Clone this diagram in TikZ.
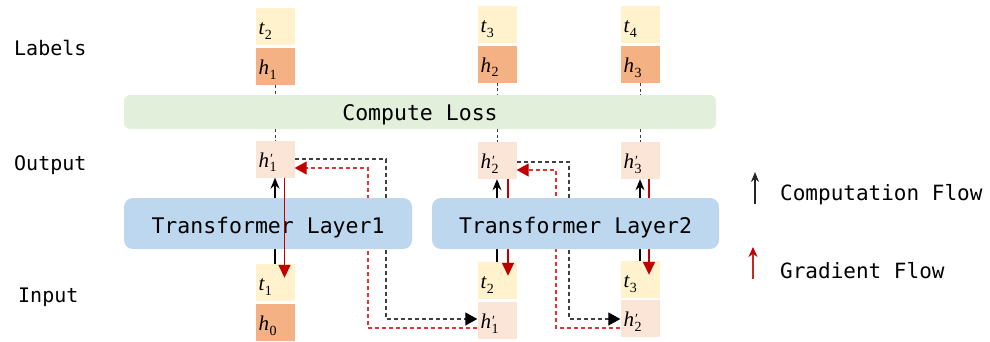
\documentclass[tikz,border=0pt]{standalone}
\usepackage{fontspec}
\setmonofont{DejaVu Sans Mono}
\newfontfamily\symfont{Liberation Serif}
\usetikzlibrary{arrows.meta,calc}

\definecolor{tfill}{HTML}{FFF2CC}
\definecolor{hfill}{HTML}{F4B183}
\definecolor{pfill}{HTML}{FBE5D6}
\definecolor{lossfill}{HTML}{E2EFDA}
\definecolor{layerfill}{HTML}{BDD7EE}
\definecolor{gradred}{HTML}{C00000}
\definecolor{dashred}{HTML}{E03535}
\definecolor{dashgray}{HTML}{404040}

% italic symbol with a lowered index, and the primed variant
\newcommand\idx[1]{\raisebox{-4.5pt}{\fontsize{14}{14}\selectfont\symfont #1}}
\newcommand\cellvar[2]{{\fontsize{21}{21}\selectfont\symfont\itshape #1}\kern0.5pt\idx{#2}}
\newcommand\cellvarp[2]{{\fontsize{21}{21}\selectfont\symfont\itshape #1}\rlap{\kern1pt\raisebox{3.5pt}{\fontsize{14}{14}\selectfont\symfont ′}}\kern0.5pt\idx{#2}}

\tikzset{
  cell/.style={minimum width=39pt, minimum height=37pt, inner xsep=3pt, inner ysep=0pt,
    text width=33pt, align=left, text height=20pt, text depth=4pt},
  tcell/.style={cell, fill=tfill},
  hcell/.style={cell, fill=hfill},
  pcell/.style={cell, fill=pfill},
  stage/.style={rounded corners=6pt, inner sep=0pt, font=\ttfamily\fontsize{21.5}{21.5}\selectfont},
  rowlabel/.style={anchor=base west, inner sep=0pt, font=\ttfamily\fontsize{20}{20}\selectfont},
  legendtext/.style={anchor=base west, inner sep=0pt, font=\ttfamily\fontsize{21}{21}\selectfont},
  linkdash/.style={dashgray, line width=0.9pt, dash pattern=on 3pt off 2.5pt},
  comp/.style={black, line width=1.2pt, -{Stealth[length=11pt,width=9pt]}},
  grad/.style={gradred, line width=1.5pt, -{Triangle[length=13pt,width=12pt]}},
  fwddash/.style={dashgray, line width=1.2pt, dash pattern=on 4pt off 3pt, -{Triangle[length=12pt,width=13pt,color=black]}},
  bwddash/.style={dashred, line width=1.2pt, dash pattern=on 4pt off 3pt, -{Triangle[length=12pt,width=13pt,color=gradred]}},
}

\begin{document}
\begin{tikzpicture}[x=1pt,y=-1pt]
\useasboundingbox (0,0) rectangle (990,341);

% row labels
\node[rowlabel] (lbl) at (14,55) {Labels};
\node[rowlabel] (outl) at (14,170) {Output};
\node[rowlabel] (inl) at (18,302) {Input};

% label cells
\node[tcell] (t2L) at (275,26.5) {\cellvar{t}{2}};
\node[hcell] (h1L) at (275,66.5) {\cellvar{h}{1}};
\node[tcell] (t3L) at (497,24.5) {\cellvar{t}{3}};
\node[hcell] (h2L) at (497,64) {\cellvar{h}{2}};
\node[tcell] (t4L) at (640,24.5) {\cellvar{t}{4}};
\node[hcell] (h3L) at (640,64.5) {\cellvar{h}{3}};

% loss box
\node[stage, fill=lossfill, minimum width=592pt, minimum height=34pt,
      text height=19pt, text depth=3pt] (loss) at (420,112) {Compute Loss};

% output cells
\node[pcell] (h1p) at (275,159) {\cellvarp{h}{1}};
\node[pcell] (h2p) at (497,160.5) {\cellvarp{h}{2}};
\node[pcell] (h3p) at (640,160.5) {\cellvarp{h}{3}};

% input cells
\node[tcell] (t1) at (275,282.5) {\cellvar{t}{1}};
\node[hcell] (h0) at (275,322.5) {\cellvar{h}{0}};
\node[tcell] (t2) at (497,280.5) {\cellvar{t}{2}};
\node[pcell] (h1pin) at (497,320.5) {\cellvarp{h}{1}};
\node[tcell] (t3) at (640,279.5) {\cellvar{t}{3}};
\node[pcell] (h2pin) at (640,318.5) {\cellvarp{h}{2}};

% links through the loss box
\foreach \lab/\out in {h1L/h1p, h2L/h2p, h3L/h3p}{
  \draw[linkdash] (\lab.south) -- (\lab.south |- loss.north);
  \draw[linkdash] (loss.south -| \out.north) -- (\out.north);
}

% forward computation through the layers
\draw[comp] (t1.north) -- (h1p.south);
\draw[comp] (t2.north) -- (h2p.south);
\draw[comp] (t3.north) -- (h3p.south);

% gradients behind layer 2
\draw[grad] ($(h2p.south)+(11,0)$) -- ($(t2.north)+(11,14)$);
\draw[grad] ($(h3p.south)+(9,0)$) -- ($(t3.north)+(9,14)$);

% hidden-state hand-over between segments
\coordinate (fa) at (386,159);
\coordinate (fb) at (386,319);
\coordinate (ra) at (368,168);
\coordinate (rb) at (368,328);
\coordinate (fc) at (569,162);
\coordinate (fd) at (569,319);
\coordinate (rc) at (556,170);
\coordinate (rd) at (556,328);

\draw[fwddash] (fa -| h1p.east) -- (fa) -- (fb) -- (fb -| h1pin.west);
\draw[bwddash] (rb -| h1pin.west) -- (rb) -- (ra) -- (ra -| h1p.east);
\draw[fwddash] (fc -| h2p.east) -- (fc) -- (fd) -- (fd -| h2pin.west);
\draw[bwddash] (rd -| h2pin.west) -- (rd) -- (rc) -- (rc -| h2p.east);

% transformer layers
\node[stage, fill=layerfill, rounded corners=9pt, minimum width=288pt, minimum height=51pt,
      text height=22pt, text depth=3pt] (layer1) at (268,223.5) {Transformer Layer1};
\node[stage, fill=layerfill, rounded corners=9pt, minimum width=287pt, minimum height=51pt,
      text height=22pt, text depth=3pt] (layer2) at (575.5,223.5) {Transformer Layer2};

% gradient through layer 1
\draw[grad] ($(h1p.south)+(9.5,0)$) -- ($(t1.north)+(9.5,14)$);

% legend
\coordinate (cf0) at (755,204);
\coordinate (cf1) at (755,172);
\coordinate (gf0) at (753,279);
\coordinate (gf1) at (753,247);
\draw[black!85, line width=1.1pt, -{Stealth[length=10pt,width=8pt]}] (cf0) -- (cf1);
\draw[gradred!85!white, line width=1.1pt, -{Stealth[length=10pt,width=9pt,color=gradred]}] (gf0) -- (gf1);
\node[legendtext] (cflow) at (780,200) {Computation Flow};
\node[legendtext] (gflow) at (780,278) {Gradient Flow};
\end{tikzpicture}
\end{document}
